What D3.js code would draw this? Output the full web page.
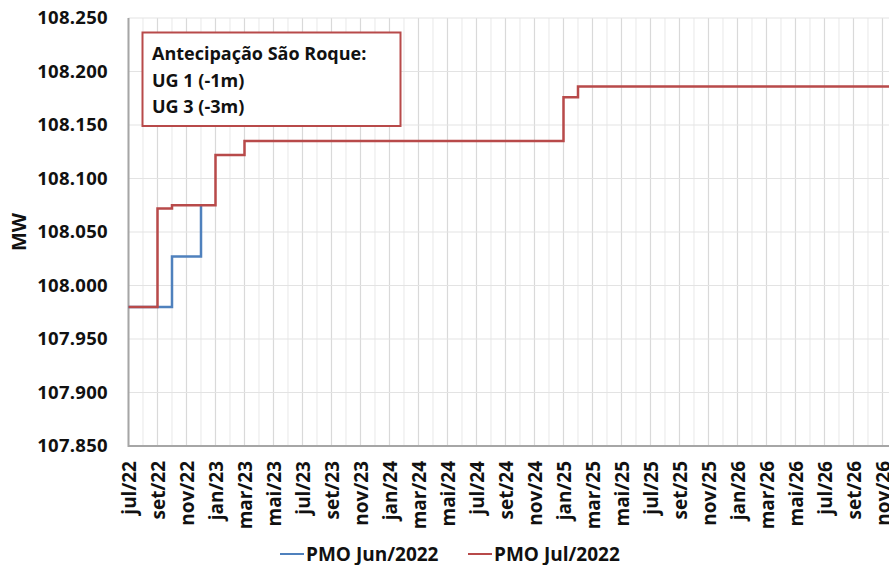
<!DOCTYPE html>
<html>
<head>
<meta charset="utf-8">
<script src="https://cdn.jsdelivr.net/npm/d3@7"></script>
<style>
  body { margin: 0; background: #fff; }
  svg { display: block; font-family: 'Open Sans', sans-serif; font-weight: bold; }
</style>
</head>
<body>
<svg id="chart" width="889" height="565"></svg>
<script>
// categories: monthly, jul/22 .. dez/26
var monthNames = ['jan', 'fev', 'mar', 'abr', 'mai', 'jun', 'jul', 'ago', 'set', 'out', 'nov', 'dez'];
var months = [];
for (var y = 22; y <= 26; y++) {
    monthNames.forEach(function (m, i) {
        if (y == 22 && i < 6) return;
        months.push(m + '/' + y);
    });
}
var yTicks = [107.85, 107.90, 107.95, 108.00, 108.05, 108.10, 108.15, 108.20, 108.25];

// PMO Jun/2022 (visible up to dez/22, hidden under Jul afterwards)
var pmoJun = [107.980, 107.980, 107.980, 108.027, 108.027, 108.075];
// PMO Jul/2022
var pmoJul = [
    107.980, 107.980, 108.072, 108.075, 108.075, 108.075, 108.122, 108.122,
    108.135, 108.135, 108.135, 108.135, 108.135, 108.135, 108.135, 108.135,
    108.135, 108.135, 108.135, 108.135, 108.135, 108.135, 108.135, 108.135,
    108.135, 108.135, 108.135, 108.135, 108.135, 108.135, 108.176, 108.186,
    108.186, 108.186, 108.186, 108.186, 108.186, 108.186, 108.186, 108.186,
    108.186, 108.186, 108.186, 108.186, 108.186, 108.186, 108.186, 108.186,
    108.186, 108.186, 108.186, 108.186, 108.186, 108.186
];
var seriesNames = ['PMO Jun/2022', 'PMO Jul/2022'];
var seriesColors = ['#4f81bd', '#b84a4a'];
var noteLines = ['Antecipação São Roque:', 'UG 1 (-1m)', 'UG 3 (-3m)'];

var LEFT = 128.5, TOP = 18, BOTTOM = 446, STEP = 14.5;
var svg = d3.select('#chart');

var x = d3.scalePoint().domain(months).range([LEFT, LEFT + STEP * (months.length - 1)]);
var yScale = d3.scaleLinear().domain([107.85, 108.25]).range([BOTTOM, TOP]);
var fmt = d3.format('.3f');

// grid
var grid = svg.append('g');
grid.selectAll('line.v').data(months).enter().append('line')
    .attr('x1', function (d) { return x(d); }).attr('x2', function (d) { return x(d); })
    .attr('y1', TOP).attr('y2', BOTTOM)
    .attr('stroke', function (d, i) { return i % 2 == 0 ? '#d9d9d9' : '#ececec'; })
    .attr('stroke-width', 1.2);
grid.selectAll('line.h').data(yTicks).enter().append('line')
    .attr('x1', LEFT).attr('x2', 900)
    .attr('y1', function (d) { return yScale(d); }).attr('y2', function (d) { return yScale(d); })
    .attr('stroke', '#e3e3e3').attr('stroke-width', 1.2);

// axes lines
svg.append('line').attr('x1', LEFT).attr('x2', LEFT).attr('y1', TOP).attr('y2', BOTTOM + 1)
    .attr('stroke', '#a6a6a6').attr('stroke-width', 2);
svg.append('line').attr('x1', LEFT).attr('x2', 900).attr('y1', BOTTOM).attr('y2', BOTTOM)
    .attr('stroke', '#a6a6a6').attr('stroke-width', 2);

// y labels
svg.append('g').selectAll('text').data(yTicks).enter().append('text')
    .attr('x', 108).attr('y', function (d) { return yScale(d); })
    .attr('dy', '0.35em').attr('text-anchor', 'end')
    .attr('font-size', 18.5).attr('letter-spacing', 0.3).attr('fill', '#111')
    .text(function (d) { return fmt(d); });

svg.append('text')
    .attr('transform', 'translate(26,' + ((TOP + BOTTOM) / 2) + ')rotate(-90)')
    .attr('text-anchor', 'middle').attr('font-size', 20).attr('fill', '#111')
    .text('MW');

// x labels, every 2 months
svg.append('g').selectAll('text').data(months.filter(function (d, i) { return i % 2 == 0; }))
    .enter().append('text')
    .attr('transform', function (d) { return 'translate(' + (x(d) + 1) + ',461)rotate(-90)'; })
    .attr('dy', '0.35em').attr('text-anchor', 'end')
    .attr('font-size', 19).attr('fill', '#111')
    .text(function (d) { return d; });

// series
var line = d3.line()
    .x(function (d, i) { return x(months[i]); })
    .y(function (d) { return yScale(d); })
    .curve(d3.curveStepAfter);
[pmoJun, pmoJul].forEach(function (s, k) {
    svg.append('path').datum(s)
        .attr('d', line)
        .attr('fill', 'none')
        .attr('stroke', seriesColors[k])
        .attr('stroke-width', 2.5);
});

// annotation box
svg.append('rect').attr('x', 142.5).attr('y', 32.5).attr('width', 258).attr('height', 93.5)
    .attr('fill', '#fff').attr('stroke', '#b84a4a').attr('stroke-width', 2);
svg.append('g').selectAll('text').data(noteLines).enter().append('text')
    .attr('x', 152).attr('y', function (d, i) { return 60 + i * 26.5; })
    .attr('font-size', 18).attr('fill', '#111')
    .text(function (d) { return d; });

// legend
var legendX = [280, 468];
seriesNames.forEach(function (n, k) {
    svg.append('line').attr('x1', legendX[k]).attr('x2', legendX[k] + 24)
        .attr('y1', 554).attr('y2', 554)
        .attr('stroke', seriesColors[k]).attr('stroke-width', 2);
    svg.append('text').attr('x', legendX[k] + 26).attr('y', 560.5)
        .attr('font-size', 19).attr('fill', '#111').text(n);
});
</script>
</body>
</html>
